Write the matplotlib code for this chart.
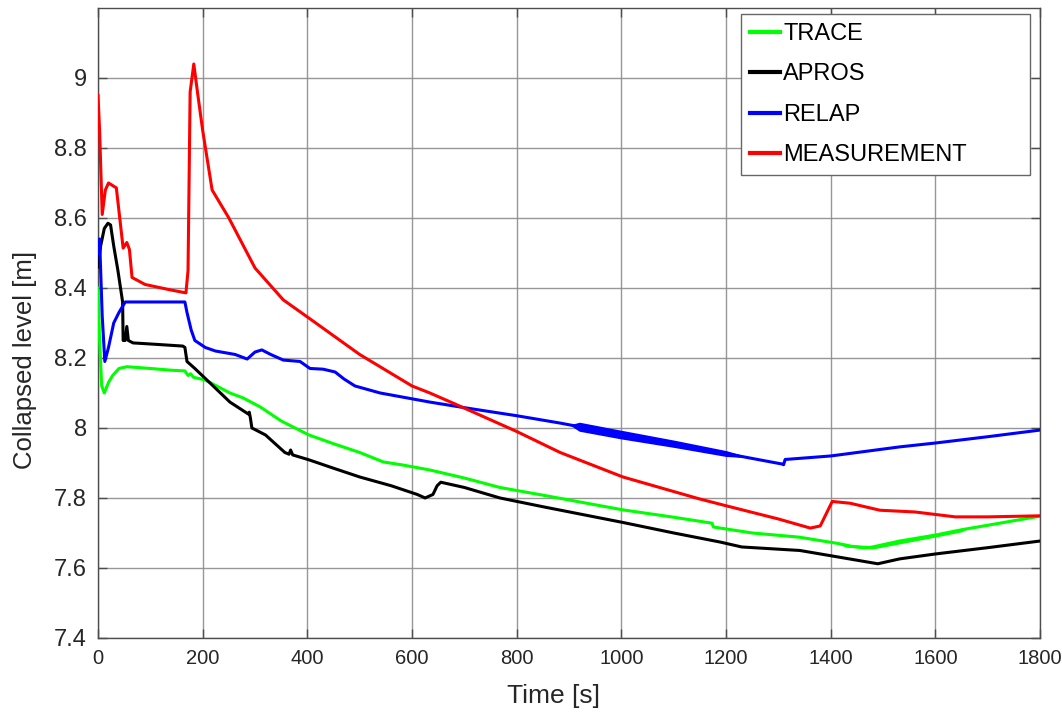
import numpy as np
import matplotlib
matplotlib.use("Agg")
import matplotlib.pyplot as plt

plt.rcParams["font.family"] = ["Liberation Sans", "DejaVu Sans"]

# ------------------------------------------------------------
# Collapsed level histories [m] versus time [s]
# ------------------------------------------------------------

trace_t = [0, 3, 7, 12, 20, 28, 40, 55, 100, 140, 166, 172, 177, 182, 205,
           252, 277, 310, 350, 403, 450, 500, 545, 583, 634, 700, 768, 850,
           1003, 1100, 1173, 1176, 1250, 1340, 1414, 1440, 1466, 1480, 1532,
           1600, 1653, 1700, 1800]
trace_v = [8.40, 8.25, 8.12, 8.10, 8.13, 8.15, 8.17, 8.175, 8.17, 8.165,
           8.163, 8.15, 8.155, 8.145, 8.137, 8.10, 8.086, 8.06, 8.02, 7.98,
           7.955, 7.93, 7.903, 7.894, 7.88, 7.857, 7.83, 7.808, 7.766, 7.745,
           7.728, 7.717, 7.70, 7.688, 7.67, 7.662, 7.657, 7.66, 7.677, 7.694,
           7.71, 7.722, 7.748]

apros_t = [0, 5, 12, 19, 24, 30, 38, 46, 47, 48, 52, 55, 58, 67, 100, 162,
           166, 170, 185, 220, 252, 287, 289, 291, 294, 320, 357, 365, 368,
           372, 403, 450, 500, 560, 610, 625, 640, 648, 655, 670, 700, 768,
           850, 1003, 1100, 1189, 1230, 1341, 1400, 1490, 1532, 1600, 1700,
           1800]
apros_v = [8.46, 8.52, 8.57, 8.585, 8.58, 8.52, 8.45, 8.37, 8.36, 8.25, 8.25,
           8.29, 8.25, 8.243, 8.24, 8.234, 8.23, 8.19, 8.17, 8.12, 8.074, 8.04,
           8.045, 8.03, 8.0, 7.98, 7.93, 7.925, 7.937, 7.923, 7.909, 7.885,
           7.86, 7.835, 7.81, 7.80, 7.81, 7.835, 7.845, 7.84, 7.83, 7.80,
           7.775, 7.73, 7.70, 7.674, 7.66, 7.65, 7.635, 7.612, 7.626, 7.64,
           7.658, 7.677]

relap_t = [0, 3, 8, 13, 20, 30, 40, 52, 100, 166, 170, 178, 185, 205, 224,
           262, 285, 300, 313, 330, 354, 386, 405, 430, 453, 470, 491, 539,
           634, 700, 800, 883, 1003, 1100, 1189, 1307, 1310, 1313, 1400, 1532,
           1600, 1700, 1800]
relap_v = [8.50, 8.54, 8.32, 8.19, 8.23, 8.30, 8.33, 8.36, 8.36, 8.36, 8.33,
           8.28, 8.25, 8.23, 8.22, 8.21, 8.197, 8.217, 8.223, 8.21, 8.194,
           8.19, 8.17, 8.168, 8.16, 8.14, 8.12, 8.10, 8.074, 8.058, 8.035,
           8.014, 7.98, 7.955, 7.93, 7.897, 7.895, 7.91, 7.92, 7.946, 7.957,
           7.975, 7.994]

meas_t = [0, 3, 8, 14, 20, 35, 48, 55, 60, 65, 90, 140, 168, 172, 176, 183,
          190, 200, 218, 250, 300, 354, 403, 500, 600, 634, 680, 800, 883,
          1003, 1150, 1202, 1300, 1361, 1380, 1403, 1437, 1494, 1561, 1638,
          1700, 1800]
meas_v = [8.95, 8.85, 8.61, 8.68, 8.70, 8.686, 8.514, 8.53, 8.51, 8.43, 8.41,
          8.394, 8.386, 8.45, 8.96, 9.04, 8.96, 8.85, 8.68, 8.60, 8.457, 8.366,
          8.314, 8.21, 8.12, 8.10, 8.07, 7.99, 7.93, 7.86, 7.797, 7.777, 7.74,
          7.714, 7.72, 7.79, 7.785, 7.765, 7.76, 7.746, 7.746, 7.749]

# oscillating stretches drawn as thin envelopes
relap_band_t = [905, 920, 1000, 1100, 1200, 1235]
relap_band_lo = [8.008, 7.993, 7.971, 7.947, 7.921, 7.918]
relap_band_hi = [8.008, 8.014, 7.991, 7.963, 7.933, 7.918]

trace_band_t = [1414, 1430, 1480, 1600, 1650, 1656]
trace_band_lo = [7.670, 7.661, 7.656, 7.690, 7.705, 7.710]
trace_band_hi = [7.670, 7.666, 7.662, 7.696, 7.712, 7.710]

series = [
    ("TRACE", trace_t, trace_v, "#00ff00"),
    ("APROS", apros_t, apros_v, "#000000"),
    ("RELAP", relap_t, relap_v, "#0000ff"),
    ("MEASUREMENT", meas_t, meas_v, "#ff0000"),
]

# ------------------------------------------------------------
# Plot
# ------------------------------------------------------------

fig = plt.figure(figsize=(10.62, 7.19), dpi=100)
ax = fig.add_axes([0.0923, 0.1127, 0.887, 0.8762])

for name, t, v, color in series:
    ax.plot(t, v, color=color, linewidth=2.2, label=name, zorder=3)

ax.fill_between(relap_band_t, relap_band_lo, relap_band_hi,
                color="#0000ff", linewidth=1.2, zorder=3)
ax.fill_between(trace_band_t, trace_band_lo, trace_band_hi,
                color="#00ff00", linewidth=0.8, zorder=3)

ax.set_xlim(0, 1800)
ax.set_ylim(7.4, 9.2)
ax.set_xticks(np.arange(0, 1801, 200))
ax.set_yticks([7.4, 7.6, 7.8, 8.0, 8.2, 8.4, 8.6, 8.8, 9.0])
ax.set_yticklabels(["7.4", "7.6", "7.8", "8", "8.2", "8.4", "8.6", "8.8", "9"])

ax.grid(True, color="#8c8c8c", linewidth=1.0, alpha=0.9)
ax.set_axisbelow(True)
ax.tick_params(direction="in", length=6.5, width=1.0, color="#4d4d4d",
               top=True, right=True, pad=8, labelcolor="#262626")
ax.tick_params(axis="y", labelsize=17)
ax.tick_params(axis="x", labelsize=14.5)
for sp in ax.spines.values():
    sp.set_color("#4d4d4d")
    sp.set_linewidth(1.0)

ax.set_xlabel("Time [s]", fontsize=19, color="#262626")
ax.set_ylabel("Collapsed level [m]", fontsize=18.5, color="#262626")
ax.xaxis.set_label_coords(0.484, -0.073)
ax.yaxis.set_label_coords(-0.065, 0.441)

leg = ax.legend(loc="upper left", bbox_to_anchor=(0.6826, 0.9905, 0.3068, 0.0),
                mode="expand", borderaxespad=0.0, fontsize=17,
                handlelength=1.25, handletextpad=0.15, labelspacing=0.78,
                borderpad=0.38, fancybox=False, framealpha=1.0)
leg.get_frame().set_edgecolor("#666666")
leg.get_frame().set_linewidth(1.0)
for line in leg.get_lines():
    line.set_linewidth(3.0)

fig.savefig("out.png", dpi=100)
